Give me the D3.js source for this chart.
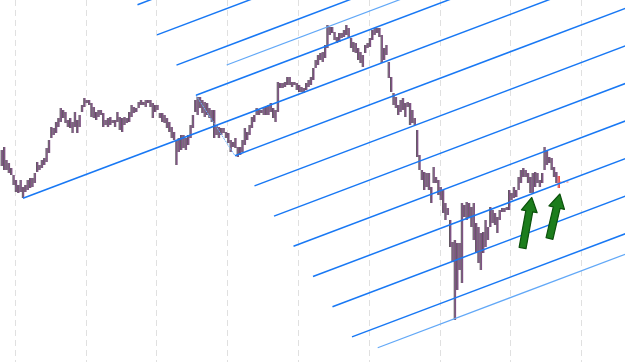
<!DOCTYPE html>
<html><head><meta charset="utf-8">
<script src="https://cdn.jsdelivr.net/npm/d3@7"></script>
<style>html,body{margin:0;padding:0;background:#fff;overflow:hidden}</style>
</head><body><svg id="c" width="625" height="362"></svg>
<script>
const barHigh = [
212,215,202,199,194,187,182,177,182,175,
177,182,184,184,189,200,197,202,204,214,
222,235,234,240,244,254,252,250,242,244,
240,250,242,247,257,264,262,262,259,255,
250,252,252,249,242,244,245,242,242,250,
245,244,245,244,250,257,255,254,260,262,
260,262,262,262,259,257,257,249,249,247,
244,240,235,230,222,224,227,227,224,227,
237,247,262,265,265,262,260,259,254,252,
252,237,235,234,234,230,229,222,220,224,
215,215,222,234,230,237,245,247,254,252,
252,254,255,257,259,254,252,280,279,279,
280,285,285,280,280,279,277,275,274,279,
282,285,294,302,307,309,310,317,337,335,
335,330,325,329,329,332,337,334,324,320,
319,314,310,307,317,319,324,332,334,334,
334,327,314,317,300,285,269,265,257,262,
264,259,260,259,252,244,232,207,192,190,
189,189,175,195,185,182,175,172,159,154,
142,120,122,119,119,159,157,160,159,155,
159,139,135,129,130,142,135,155,152,149,
145,152,154,154,155,172,169,175,172,185,
192,194,192,189,185,189,190,189,182,189,
215,212,205,204,195,190,186];
const barLow = [
196,192,192,189,187,177,170,169,170,164,
170,172,174,175,179,190,192,194,197,200,
209,224,227,229,235,240,244,239,235,234,
229,235,229,235,250,255,259,257,245,244,
242,245,247,235,237,235,237,239,235,240,
232,230,237,239,240,245,249,250,254,257,
257,255,259,255,244,250,252,244,240,239,
234,230,224,222,197,210,212,214,212,217,
224,234,250,247,254,249,245,247,244,240,
224,227,224,227,229,224,219,210,215,214,
205,207,210,217,222,227,234,240,247,247,
249,247,247,247,250,244,240,250,274,274,
275,277,277,275,277,272,270,270,269,272,
275,277,282,294,297,302,300,304,314,327,
329,322,319,320,324,325,327,324,314,310,
309,302,299,295,309,314,315,322,327,329,
325,299,302,307,284,270,257,254,247,250,
252,245,255,237,239,237,205,192,182,172,
175,172,159,179,179,167,162,149,142,147,
115,100,42,72,92,79,145,142,144,135,
122,109,99,92,109,115,122,135,139,137,
129,142,150,150,152,152,162,164,165,172,
179,185,185,179,169,169,175,179,175,179,
192,197,199,192,185,179,174];

const gridIndex = [5.6, 35.6, 65.6, 95.6, 125.6, 155.6, 185.6, 215.6, 245.6];
const channelSlope = 0.891; // price units per bar
const channelStartIndex = [57.63, 65.89, 74.15, 82.42, 9.11, 98.94, 107.2, 115.47, 123.73, 131.99, 140.25, 148.52, 95.42, 159.41];
const channelStartPrice = [357.3, 327.1, 296.9, 266.7, 163.7, 206.3, 176.1, 145.9, 115.7, 85.5, 55.3, 25.1, 297.0, 14.3];
const channelLight = [false,false,false,false,false,false,false,false,false,false,false,false,true,true];
const anchorIndex = [82.42, 98.94];
const anchorPrice = [266.7, 206.3];
const arrowTailIndex = [220.8, 232.2];
const arrowTailPrice = [114.0, 123.5];
const arrowTipIndex = [224.7, 236.6];
const arrowTipPrice = [164.5, 168.0];

const W = 625, H = 362;
const svg = d3.select('#c');
const x = d3.scaleLinear().domain([0, 264.2]).range([1.5, 625]);
const y = d3.scaleLinear().domain([0, 362]).range([362, 0]);

// grid
svg.append('g').selectAll('line').data(gridIndex).join('line')
  .attr('x1', d => Math.round(x(d)) + 0.5).attr('x2', d => Math.round(x(d)) + 0.5)
  .attr('y1', 0).attr('y2', H)
  .attr('stroke', '#e0e0e0').attr('stroke-width', 1).attr('stroke-dasharray', '6,4');

// bars
const bars = d3.range(barHigh.length);
const last = barHigh.length - 1;
const gb = svg.append('g');
gb.selectAll('rect').data(bars).join('rect')
  .attr('x', i => x(i)).attr('width', 1.5)
  .attr('y', i => y(barHigh[i])).attr('height', i => Math.max(1, y(barLow[i]) - y(barHigh[i])))
  .attr('fill', i => i === last ? '#e8483f' : '#7f5384');
gb.selectAll('line').data(bars).join('line')
  .attr('x1', i => x(i) - 0.4).attr('x2', i => x(i) - 0.4)
  .attr('y1', i => y(barHigh[i])).attr('y2', i => y(barLow[i]))
  .attr('stroke', i => i === last ? '#e02020' : '#1a0c1c').attr('stroke-width', 0.8).attr('opacity', 0.85);

// last-price marker
svg.append('line')
  .attr('x1', x(last) + 1).attr('x2', x(last) + 10)
  .attr('y1', y((barHigh[last] + barLow[last]) / 2)).attr('y2', y((barHigh[last] + barLow[last]) / 2))
  .attr('stroke', '#f07070').attr('stroke-width', 1).attr('stroke-dasharray', '2,1.5');

// anchor line
svg.append('line')
  .attr('x1', x(anchorIndex[0])).attr('y1', y(anchorPrice[0]))
  .attr('x2', x(anchorIndex[1])).attr('y2', y(anchorPrice[1]))
  .attr('stroke', '#6fb3ff').attr('stroke-width', 1).attr('stroke-dasharray', '2,1');

// channel lines
const endIndex = x.invert(W + 2);
svg.append('g').selectAll('line').data(d3.range(channelStartIndex.length)).join('line')
  .attr('x1', k => x(channelStartIndex[k])).attr('y1', k => y(channelStartPrice[k]))
  .attr('x2', x(endIndex))
  .attr('y2', k => y(channelStartPrice[k] + channelSlope * (endIndex - channelStartIndex[k])))
  .attr('stroke', k => channelLight[k] ? '#62a8f7' : '#1878f4')
  .attr('stroke-width', k => channelLight[k] ? 1.2 : 1.5);

// arrows
function arrowPath(x0, y0, x1, y1) {
  const dx = x1 - x0, dy = y1 - y0, L = Math.hypot(dx, dy);
  const ux = dx / L, uy = dy / L, nx = -uy, ny = ux;
  const sw = 3.5, hw = 8, hl = 14;
  const bx = x1 - ux * hl, by = y1 - uy * hl;
  const pts = [
    [x0 + nx * sw, y0 + ny * sw], [bx + nx * sw, by + ny * sw], [bx + nx * hw, by + ny * hw],
    [x1, y1], [bx - nx * hw, by - ny * hw], [bx - nx * sw, by - ny * sw], [x0 - nx * sw, y0 - ny * sw]
  ];
  return 'M' + pts.map(p => p.join(',')).join('L') + 'Z';
}
svg.append('g').selectAll('path').data(d3.range(arrowTailIndex.length)).join('path')
  .attr('d', k => arrowPath(x(arrowTailIndex[k]), y(arrowTailPrice[k]), x(arrowTipIndex[k]), y(arrowTipPrice[k])))
  .attr('fill', '#1c7d1c').attr('stroke', '#0c520c').attr('stroke-width', 1.2).attr('stroke-linejoin', 'round');
</script></body></html>
